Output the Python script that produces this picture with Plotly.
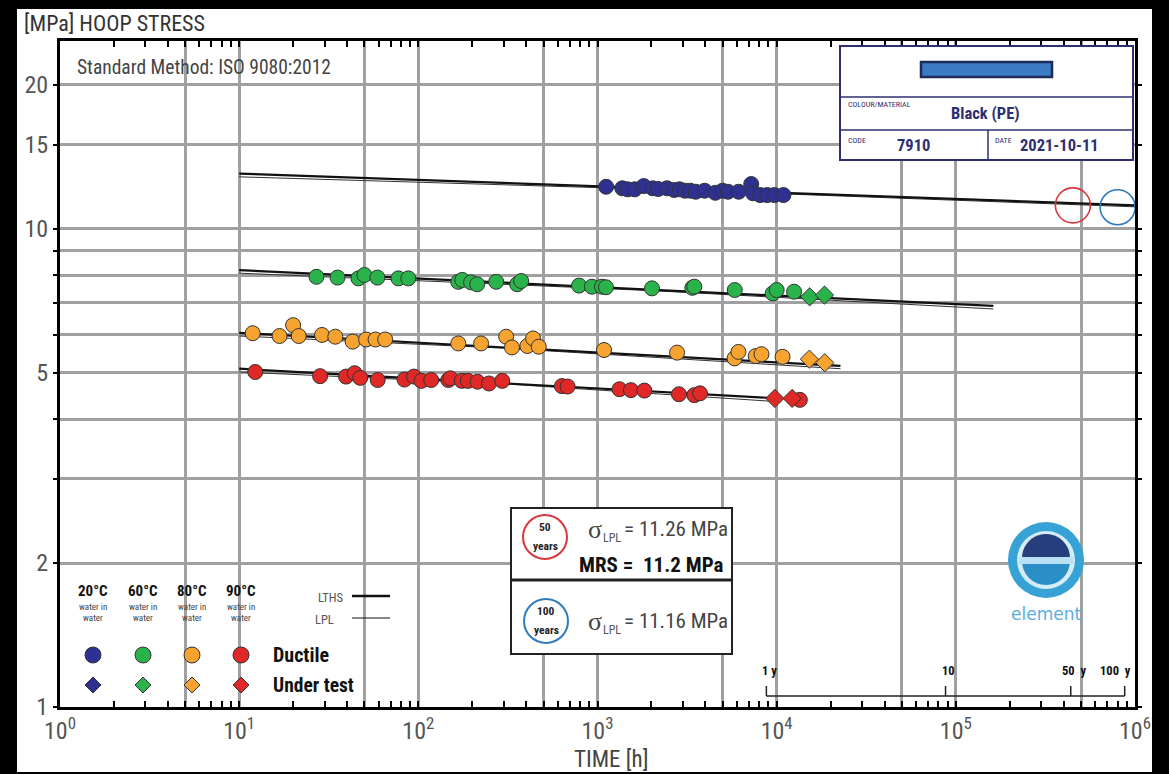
import math
import plotly.graph_objects as go

# ---------------- data (hours, MPa) ----------------
blue_t = [1117, 1375, 1473, 1614, 1811, 2033, 2179, 2442, 2679, 2870, 3076, 3297,
          3534, 3961, 4550, 4989, 5347, 6135, 7211, 7379, 8093, 8864, 9721, 10910]
blue_s = [12.25, 12.16, 12.10, 12.10, 12.29, 12.16, 12.12, 12.16, 12.06, 12.10, 12.02, 12.02,
          11.96, 12.02, 11.90, 12.02, 11.96, 11.96, 12.41, 11.87, 11.77, 11.77, 11.77, 11.77]

green_t = [27.0, 35.4, 46.3, 50.0, 59.1, 77.4, 87.9, 167, 176, 197, 213, 272, 356, 375,
           789, 931, 1060, 1115, 2013, 3382, 3470, 5834, 9506, 10000, 12510]
green_s = [7.94, 7.91, 7.88, 8.01, 7.91, 7.88, 7.88, 7.75, 7.82, 7.73, 7.66, 7.75, 7.66, 7.78,
           7.61, 7.57, 7.57, 7.55, 7.51, 7.53, 7.57, 7.45, 7.33, 7.45, 7.39]
green_test_t = [15280, 18500]
green_test_s = [7.21, 7.27]

orange_t = [11.9, 16.8, 20.0, 21.5, 29.0, 34.4, 43.0, 51.1, 57.7, 65.3, 167, 224, 309, 333,
            406, 437, 470, 1088, 2780, 5821, 6118, 7638, 8228, 10790]
orange_s = [6.05, 5.97, 6.29, 5.97, 6.00, 5.95, 5.81, 5.87, 5.87, 5.87, 5.76, 5.76, 5.95, 5.65,
            5.69, 5.90, 5.67, 5.58, 5.51, 5.36, 5.53, 5.42, 5.47, 5.40]
orange_test_t = [15230, 18560]
orange_test_s = [5.34, 5.25]

red_t = [12.3, 28.3, 39.5, 44.1, 47.4, 59.3, 83.7, 94.6, 104, 118, 147, 151, 175, 189, 214,
         248, 294, 633, 681, 1326, 1537, 1827, 2848, 3471, 3734, 13470]
red_s = [5.02, 4.92, 4.91, 4.99, 4.88, 4.83, 4.84, 4.91, 4.81, 4.83, 4.83, 4.87, 4.81, 4.81, 4.79,
         4.75, 4.81, 4.69, 4.68, 4.62, 4.60, 4.59, 4.51, 4.49, 4.53, 4.39]
red_test_t = [9772, 12200]
red_test_s = [4.42, 4.42]

# regression lines (LTHS) and lower prediction limits (LPL)
blue_lths_t = [10, 1e6]
blue_lths_s = [13.05, 11.20]
blue_lpl_t = [10, 3000, 1e6]
blue_lpl_s = [12.85, 12.05, 11.12]

green_lths_t = [10, 1.62e5]
green_lths_s = [8.20, 6.90]
green_lpl_t = [10, 2000, 1.62e5]
green_lpl_s = [8.08, 7.43, 6.80]

orange_lths_t = [10, 22700]
orange_lths_s = [6.06, 5.17]
orange_lpl_t = [10, 300, 22700]
orange_lpl_s = [5.97, 5.63, 5.10]

red_lths_t = [10, 10300]
red_lths_s = [5.10, 4.42]
red_lpl_t = [10, 300, 10300]
red_lpl_s = [5.02, 4.74, 4.35]

# extrapolation markers (50 y, 100 y)
ref_t = [4.5e5, 8.0e5]
ref_s = [11.2, 11.1]

# axis ticks
x_major = [1, 10, 100, 1000, 1e4, 1e5, 1e6]
x_major_text = ["10<sup>%d</sup>" % i for i in range(7)]
x_grid_extra = [5, 50, 500, 5000, 5e4, 5e5]
y_ticks = [1, 2, 3, 4, 5, 6, 7, 8, 9, 10, 15, 20]
y_text = ["1", "2", " ", " ", "5", " ", " ", " ", " ", "10", "15", "20"]

year_hours = [8760, 87600, 438000, 876000]
year_labels = ["1 y", "10", "50  y", "100  y"]

temps = ["20°C", "60°C", "80°C", "90°C"]

# ---------------- styling ----------------
BLUE, GREEN, ORANGE, RED = "#2e3192", "#2bb34b", "#f7a330", "#e02826"
NAVY = "#2d2f72"
FONT = "Roboto Condensed, Liberation Sans Narrow, Arial Narrow, Liberation Sans, Arial, sans-serif"
W, H = 1169, 774
L, R, T, B = 60, 1135, 41, 707


def px(x):
    return (x - L) / (R - L)


def py(y):
    return (B - y) / (B - T)


fig = go.Figure()

# lines
for t, s in [(blue_lpl_t, blue_lpl_s), (green_lpl_t, green_lpl_s),
             (orange_lpl_t, orange_lpl_s), (red_lpl_t, red_lpl_s)]:
    fig.add_trace(go.Scatter(x=t, y=s, mode="lines", line=dict(color="#333", width=1),
                             hoverinfo="skip"))
for t, s in [(blue_lths_t, blue_lths_s), (green_lths_t, green_lths_s),
             (orange_lths_t, orange_lths_s), (red_lths_t, red_lths_s)]:
    fig.add_trace(go.Scatter(x=t, y=s, mode="lines", line=dict(color="#111", width=2.2),
                             hoverinfo="skip"))

# points
for t, s, c in [(blue_t, blue_s, BLUE), (green_t, green_s, GREEN),
                (orange_t, orange_s, ORANGE), (red_t, red_s, RED)]:
    fig.add_trace(go.Scatter(x=t, y=s, mode="markers",
                             marker=dict(symbol="circle", size=15, color=c,
                                         line=dict(color="#333", width=1))))
for t, s, c in [(green_test_t, green_test_s, GREEN), (orange_test_t, orange_test_s, ORANGE),
                (red_test_t, red_test_s, RED)]:
    fig.add_trace(go.Scatter(x=t, y=s, mode="markers",
                             marker=dict(symbol="diamond", size=14, color=c,
                                         line=dict(color="#333", width=1))))

fig.add_trace(go.Scatter(x=ref_t, y=ref_s, mode="markers",
                         marker=dict(symbol="circle-open", size=35, color=["#d9363e", "#2f7bbd"],
                                     line=dict(width=1.6))))

shapes = []
ann = []


def text(x, y, s, size, color="#222", bold=False, anchor="center", family=FONT):
    if bold:
        s = "<b>" + s + "</b>"
    ann.append(dict(x=px(x), y=py(y), xref="paper", yref="paper", text=s, showarrow=False,
                    xanchor=anchor, yanchor="middle",
                    font=dict(size=size, color=color, family=family)))


def rect(x0, y0, x1, y1, fill="white", line="black", lw=1.5):
    shapes.append(dict(type="rect", xref="paper", yref="paper", x0=px(x0), x1=px(x1),
                       y0=py(y1), y1=py(y0), fillcolor=fill, line=dict(color=line, width=lw),
                       layer="above"))


def hline(x0, x1, y, color="black", lw=1.5):
    shapes.append(dict(type="line", xref="paper", yref="paper", x0=px(x0), x1=px(x1),
                       y0=py(y), y1=py(y), line=dict(color=color, width=lw), layer="above"))


def vline(x, y0, y1, color="black", lw=1.5):
    shapes.append(dict(type="line", xref="paper", yref="paper", x0=px(x), x1=px(x),
                       y0=py(y0), y1=py(y1), line=dict(color=color, width=lw), layer="above"))


def circle(cx, cy, r, fill="white", line="black", lw=1.5):
    shapes.append(dict(type="circle", xref="paper", yref="paper", x0=px(cx - r), x1=px(cx + r),
                       y0=py(cy + r), y1=py(cy - r), fillcolor=fill,
                       line=dict(color=line, width=lw), layer="above"))


def diamond(cx, cy, r, fill, line="#333"):
    p = "M %f,%f L %f,%f L %f,%f L %f,%f Z" % (px(cx), py(cy - r), px(cx + r), py(cy),
                                               px(cx), py(cy + r), px(cx - r), py(cy))
    shapes.append(dict(type="path", xref="paper", yref="paper", path=p, fillcolor=fill,
                       line=dict(color=line, width=1), layer="above"))


def path(pts, fill, lw=0, line=None):
    p = "M " + " L ".join("%f,%f" % (px(a), py(b)) for a, b in pts) + " Z"
    shapes.append(dict(type="path", xref="paper", yref="paper", path=p, fillcolor=fill,
                       line=dict(color=line or fill, width=lw), layer="above"))


# titles
text(22, 24, "[MPa] HOOP STRESS", 22, "#333", anchor="left")
text(75, 67, "Standard Method: ISO 9080:2012", 19.5, "#444", anchor="left")
text(611, 759, "TIME [h]", 23, "#444")

# info box
rect(840, 46, 1133, 160, "white", NAVY, 2)
hline(840, 1133, 97, NAVY, 1.5)
hline(840, 1133, 130, NAVY, 1.5)
vline(988, 130, 160, NAVY, 1.5)
rect(921, 62, 1052, 77, "#3b7cc4", "#1e2a5a", 2.5)
text(846, 104, "COLOUR/MATERIAL", 8, NAVY, anchor="left")
text(985, 113, "Black (PE)", 16.5, NAVY, bold=True)
text(846, 141, "CODE", 8, NAVY, anchor="left")
text(913, 145, "7910", 16.5, NAVY, bold=True)
text(993, 141, "DATE", 8, NAVY, anchor="left")
text(1059, 145, "2021-10-11", 16.5, NAVY, bold=True)

# MRS box
rect(511, 508, 732, 654, "white", "#222", 2)
hline(511, 732, 580, "#222", 3)
circle(545, 537, 22, "white", "#d9363e", 2)
text(545, 527, "50", 11.5, "#222", bold=True)
text(545, 546, "years", 11.5, "#222", bold=True)
circle(546, 621, 22, "white", "#2f7bbd", 2)
text(546, 611, "100", 11.5, "#222", bold=True)
text(546, 630, "years", 11.5, "#222", bold=True)
for yy, val in [(529, "11.26"), (621, "11.16")]:
    text(595, yy, "σ", 26, "#444", family="Liberation Serif, DejaVu Serif, serif")
    text(612, yy + 9, "LPL", 12, "#555")
    text(622, yy, "= " + val + " MPa", 21, "#444", anchor="left")
text(577, 565, "MRS =  11.2 MPa", 21, "#111", bold=True, anchor="left")

# legend
cols = [93, 143, 192, 241]
colors = [BLUE, GREEN, ORANGE, RED]
for cx, tt, c in zip(cols, temps, colors):
    text(cx, 591, tt, 15, "#111", bold=True)
    text(cx, 607, "water in", 9, "#444")
    text(cx, 618, "water", 9, "#444")
    circle(cx, 655, 8, c, "#333", 1)
    diamond(cx, 685, 8, c)
text(271, 655, "Ductile", 20, "#111", bold=True, anchor="left")
text(271, 685, "Under test", 19.5, "#111", bold=True, anchor="left")
text(345, 597, "LTHS", 12.5, "#555", anchor="right")
text(336, 619, "LPL", 12.5, "#555", anchor="right")
hline(352, 390, 596, "#111", 2.5)
hline(352, 390, 618, "#111", 1)

# time bar (years) in data coordinates on x
shapes.append(dict(type="line", xref="x", yref="paper", x0=year_hours[0], x1=year_hours[-1],
                   y0=py(696), y1=py(696), line=dict(color="#222", width=1.5), layer="above"))
for i, (h_, lab) in enumerate(zip(year_hours, year_labels)):
    shapes.append(dict(type="line", xref="x", yref="paper", x0=h_, x1=h_,
                       y0=py(696), y1=py(686), line=dict(color="#222", width=1.5), layer="above"))
    ann.append(dict(x=math.log10(h_), y=py(670), xref="x", yref="paper", text="<b>" + lab + "</b>",
                    showarrow=False, xanchor="center", yanchor="middle",
                    xshift=(-9 if i == len(year_hours) - 1 else 3),
                    font=dict(size=12.5, color="#111", family=FONT)))

# element logo
lx, ly = 1046, 560
circle(lx, ly, 38, "#37a2d6", "#37a2d6", 0)
circle(lx, ly, 29, "#d4ecf8", "#d4ecf8", 0)
circle(lx, ly + 1, 24, "#2b8fc7", "#2b8fc7", 0)
top = [(lx + 24 * math.cos(a / 20 * math.pi), ly - 2 - 24 * math.sin(a / 20 * math.pi))
       for a in range(0, 21)]
path(top, "#263f7c")
rect(lx - 27, ly - 3, lx + 27, ly + 4, "#b9e0f4", "#b9e0f4", 0)
text(lx, 614, "element", 17, "#5aaede", family="DejaVu Sans, sans-serif")

# black frame around the white sheet
for x0, y0, x1, y1 in [(-10, -10, 17, 790), (1152, -10, 1180, 790), (-10, -10, 1180, 9),
                       (-10, 772, 1180, 790)]:
    shapes.append(dict(type="rect", xref="paper", yref="paper", x0=px(x0), x1=px(x1),
                       y0=py(y1), y1=py(y0), fillcolor="black", line=dict(width=0),
                       layer="above"))

fig.update_layout(
    width=W, height=H,
    margin=dict(l=L, r=W - R, t=T, b=H - B, autoexpand=False),
    paper_bgcolor="white", plot_bgcolor="white",
    showlegend=False,
    font=dict(family=FONT),
    shapes=shapes, annotations=ann,
    xaxis=dict(type="log", range=[0, 6], tickvals=x_major + x_grid_extra,
               ticktext=x_major_text + [" "] * len(x_grid_extra),
               ticks="inside", ticklen=6, tickwidth=2, tickcolor="black",
               showline=True, linecolor="black", linewidth=3, mirror="ticks",
               showgrid=True, gridcolor="#a0a0a0", gridwidth=2.5, zeroline=False,
               tickfont=dict(size=24, color="#555", family=FONT),
               minor=dict(tickvals=[m * 10 ** e for e in range(6) for m in (2, 3, 4, 6, 7, 8, 9)],
                          ticks="inside", ticklen=6, tickwidth=2, tickcolor="black",
                          showgrid=False)),
    yaxis=dict(type="log", range=[0, 1.393], tickvals=y_ticks, ticktext=y_text,
               ticks="outside", ticklen=4, tickwidth=2, tickcolor="black",
               showline=True, linecolor="black", linewidth=3, mirror="ticks",
               showgrid=True, gridcolor="#a0a0a0", gridwidth=2.5, zeroline=False,
               tickfont=dict(size=24, color="#555", family=FONT)),
)

fig.write_html("out.html", config={"displayModeBar": False},
               post_script="document.body.style.margin='0';")
